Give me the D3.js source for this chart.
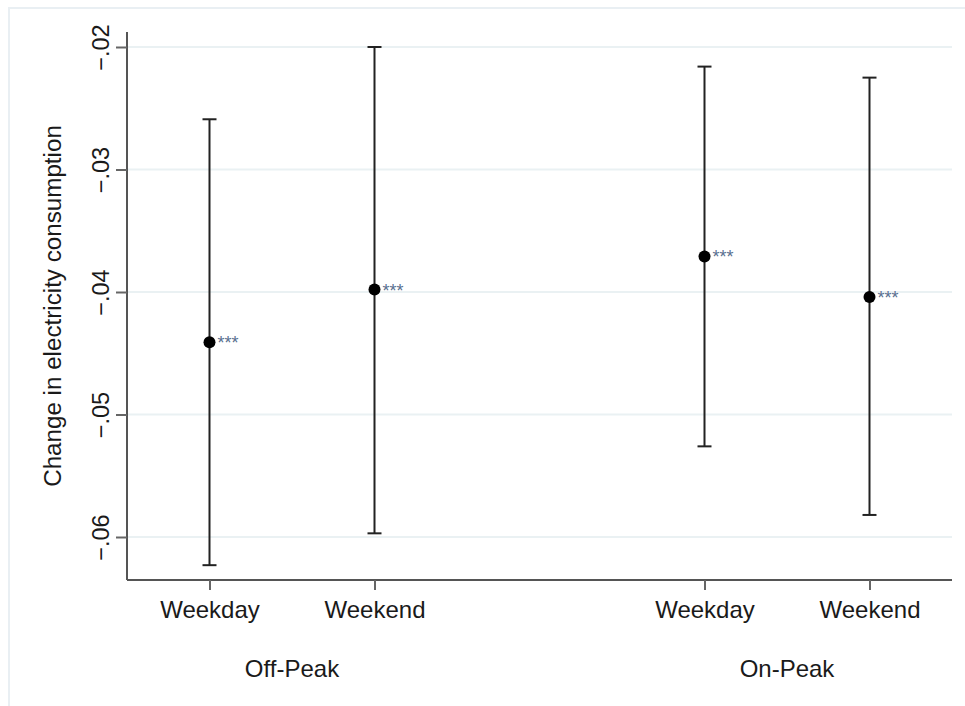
<!DOCTYPE html>
<html>
<head>
<meta charset="utf-8">
<script src="https://cdn.jsdelivr.net/npm/d3@7"></script>
<style>
    body { margin: 0; background: #fff; }
    svg text { font-family: Arial, "Liberation Sans", sans-serif; }
</style>
</head>
<body>
<svg class="chart" width="965" height="706"></svg>
<script>
(function() {
    'use strict';

    // categories and their x slots (gap between the two groups)
    var categories = ["Weekday", "Weekend", "Weekday", "Weekend"],
        slots = [1, 2, 4, 5],
        groups = ["Off-Peak", "On-Peak"],
        groupCenters = [1.5, 4.5];

    // point estimates and 95% CI bounds
    var estimates = [-0.0441, -0.0398, -0.0371, -0.0404],
        ciLow = [-0.0623, -0.0597, -0.0526, -0.0582],
        ciHigh = [-0.0259, -0.0200, -0.0216, -0.0225],
        stars = ["***", "***", "***", "***"];

    var yTicks = [-0.02, -0.03, -0.04, -0.05, -0.06];

    var left = 127, right = 952, top = 32, bottom = 580;

    var svg = d3.select(".chart");

    // faint outer frame
    svg.append("rect")
        .attr("x", 9).attr("y", 8)
        .attr("width", 980).attr("height", 720)
        .attr("fill", "none")
        .attr("stroke", "#e9eff3")
        .attr("stroke-width", 2);

    var x = d3.scaleLinear().domain([0.5, 5.5]).range([left, right]);
    var y = d3.scaleLinear().domain([-0.063510, -0.018776]).range([bottom, top]);

    // grid lines
    svg.selectAll("line.grid")
        .data(yTicks)
        .enter().append("line")
        .attr("class", "grid")
        .attr("x1", left).attr("x2", right)
        .attr("y1", function(d) { return y(d); })
        .attr("y2", function(d) { return y(d); })
        .attr("stroke", "#eaf1f3")
        .attr("stroke-width", 2);

    // y axis
    var yAxis = d3.axisLeft(y)
        .tickValues(yTicks)
        .tickSize(11)
        .tickPadding(0)
        .tickFormat(function(d) { return d3.format(".2f")(d).replace("0.", "."); });

    var gy = svg.append("g")
        .attr("transform", "translate(" + left + ",0)")
        .call(yAxis);
    gy.select(".domain").attr("stroke", "#555").attr("stroke-width", 2)
        .attr("d", "M0," + top + "V" + bottom);
    gy.selectAll(".tick line").attr("stroke", "#666").attr("stroke-width", 2);
    gy.selectAll(".tick text")
        .attr("x", null).attr("dy", null)
        .attr("text-anchor", "middle")
        .attr("transform", "translate(-18,0) rotate(-90)")
        .attr("font-size", 23.5)
        .attr("fill", "#1a1a1a");

    // x axis
    var xAxis = d3.axisBottom(x)
        .tickValues(slots)
        .tickSize(10)
        .tickPadding(10)
        .tickFormat(function(d, i) { return categories[i]; });

    var gx = svg.append("g")
        .attr("transform", "translate(0," + bottom + ")")
        .call(xAxis);
    gx.select(".domain").attr("stroke", "#555").attr("stroke-width", 2)
        .attr("d", "M" + left + ",0H" + right);
    gx.selectAll(".tick line").attr("stroke", "#666").attr("stroke-width", 2);
    gx.selectAll(".tick text")
        .attr("dy", null)
        .attr("y", 38)
        .attr("font-size", 24)
        .attr("fill", "#1a1a1a");

    // group labels
    svg.selectAll("text.group")
        .data(groups)
        .enter().append("text")
        .attr("class", "group")
        .attr("x", function(d, i) { return x(groupCenters[i]); })
        .attr("y", 677)
        .attr("text-anchor", "middle")
        .attr("font-size", 24)
        .attr("fill", "#1a1a1a")
        .text(function(d) { return d; });

    // y title
    svg.append("text")
        .attr("transform", "translate(61,306) rotate(-90)")
        .attr("text-anchor", "middle")
        .attr("font-size", 24.2)
        .attr("fill", "#1a1a1a")
        .text("Change in electricity consumption");

    var capHalf = 7;
    var bars = svg.selectAll("g.bar")
        .data(estimates)
        .enter().append("g")
        .attr("class", "bar")
        .attr("transform", function(d, i) {
            return "translate(" + x(slots[i]) + ",0)";
        });

    bars.append("line")
        .attr("x1", 0).attr("x2", 0)
        .attr("y1", function(d, i) { return y(ciHigh[i]); })
        .attr("y2", function(d, i) { return y(ciLow[i]); })
        .attr("stroke", "#222")
        .attr("stroke-width", 2);

    bars.append("line")
        .attr("x1", -capHalf).attr("x2", capHalf)
        .attr("y1", function(d, i) { return y(ciHigh[i]); })
        .attr("y2", function(d, i) { return y(ciHigh[i]); })
        .attr("stroke", "#222")
        .attr("stroke-width", 2);

    bars.append("line")
        .attr("x1", -capHalf).attr("x2", capHalf)
        .attr("y1", function(d, i) { return y(ciLow[i]); })
        .attr("y2", function(d, i) { return y(ciLow[i]); })
        .attr("stroke", "#222")
        .attr("stroke-width", 2);

    bars.append("circle")
        .attr("cx", 0)
        .attr("cy", function(d) { return y(d); })
        .attr("r", 6)
        .attr("fill", "#000");

    bars.append("text")
        .attr("x", 8)
        .attr("y", function(d) { return y(d) + 7; })
        .attr("font-size", 18)
        .attr("fill", "#5a6f90")
        .text(function(d, i) { return stars[i]; });
})();
</script>
</body>
</html>
